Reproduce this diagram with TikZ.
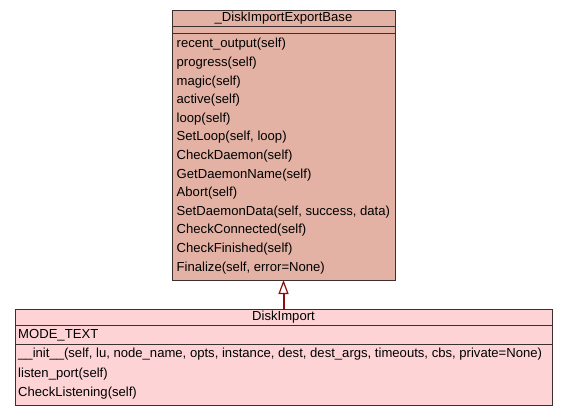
\documentclass[tikz,border=0pt]{standalone}
\usepackage{fontspec}
\setmainfont{Liberation Sans}
\usetikzlibrary{arrows.meta, positioning}
\definecolor{basefill}{HTML}{E3B2A4}
\definecolor{importfill}{HTML}{FDD3D6}
\definecolor{umlline}{HTML}{3A3030}
\definecolor{inherit}{HTML}{8B0F0F}

\tikzset{
	classbox/.style={draw=umlline, line width=1pt, inner sep=0pt, outer sep=0pt, rectangle},
	member/.style={anchor=west, inner sep=0pt, font=\fontsize{13.1}{14}\selectfont},
	classname/.style={inner sep=0pt, font=\fontsize{13.1}{14}\selectfont},
}

\begin{document}
\begin{tikzpicture}[x=1pt, y=-1pt]
	\useasboundingbox (0,0) rectangle (568,416);
	% base class
	\node[classbox, fill=basefill, minimum width=223pt, minimum height=270pt] (base) at (283.5,145) {};
	\draw[umlline, line width=1pt] (172,26) -- (395,26);
	\draw[umlline, line width=1pt] (172,33) -- (395,33);
	\node[classname] (basename) at (283.5,18) {\_DiskImportExportBase};
	\foreach \m [count=\i] in {recent\_output(self), progress(self), magic(self), active(self), loop(self), {SetLoop(self, loop)}, CheckDaemon(self), GetDaemonName(self), Abort(self), {SetDaemonData(self, success, data)}, CheckConnected(self), CheckFinished(self), {Finalize(self, error=None)}}
		\node[member] (bm\i) at (176.5,{44.5+18.6*(\i-1)}) {\m};

	% derived class
	\node[classbox, fill=importfill, minimum width=537pt, minimum height=96pt] (import) at (283.5,357) {};
	\draw[umlline, line width=1pt] (15,325) -- (552,325);
	\draw[umlline, line width=1pt] (15,344) -- (552,344);
	\node[classname] (importname) at (283.5,317) {DiskImport};
	\node[member] (modetext) at (18,335) {MODE\_TEXT};
	\node[member] (init) at (18,354.5) {\_\_init\_\_(self, lu, node\_name, opts, instance, dest, dest\_args, timeouts, cbs, private=None)};
	\node[member] (listen) at (18,374) {listen\_port(self)};
	\node[member] (checklisten) at (18,393.5) {CheckListening(self)};

	\draw[inherit, line width=2pt, -{Triangle[open, fill=white, length=14pt, width=10pt, line width=1.2pt]}] (import.north) -- (base.south);
\end{tikzpicture}
\end{document}
